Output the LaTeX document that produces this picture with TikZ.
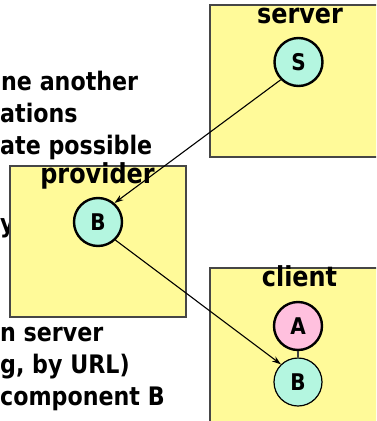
\documentclass[tikz,border=0pt]{standalone}
\usepackage{fontspec}
\usetikzlibrary{arrows.meta}
\newfontfamily\txtfont[FakeStretch=0.87]{DejaVu Sans}
\definecolor{boxfill}{RGB}{255,250,153}
\definecolor{boxline}{RGB}{70,70,70}
\definecolor{compcyan}{RGB}{180,246,224}
\definecolor{comppink}{RGB}{255,192,222}
\tikzset{
  host/.style={draw=boxline, line width=1.3pt, fill=boxfill},
  hostlabel/.style={font=\txtfont\bfseries\fontsize{27.5}{30}\selectfont, inner sep=0pt, anchor=base},
  bodytext/.style={font=\txtfont\bfseries\fontsize{25.5}{30}\selectfont, inner sep=0pt, anchor=base west},
  comp/.style={circle, draw=black, line width=2.4pt, minimum size=48pt, inner sep=0pt,
               font=\txtfont\bfseries\fontsize{23}{26}\selectfont},
  thincomp/.style={comp, line width=1.2pt},
  link/.style={-{Stealth[length=9pt,width=6pt]}, line width=1.1pt},
}
\begin{document}
\begin{tikzpicture}[x=1pt, y=-1pt]
  \useasboundingbox (0,0) rectangle (376,421);
  \clip (0,0) rectangle (376,421);
  \fill[white] (0,0) rectangle (376,421);

  % bullet text running off the left edge
  \node[bodytext] (t1) at (1,90) {ne another};
  \node[bodytext] (t2) at (0,122) {ations};
  \node[bodytext] (t3) at (0,154) {ate possible};
  \node[bodytext] (t4) at (0,232) {y};
  \node[bodytext] (t5) at (0,341) {n server};
  \node[bodytext] (t6) at (0,373) {g, by URL)};
  \node[bodytext] (t7) at (0,405) {component B};

  % hosts
  \draw[host] (210,5) rectangle (385,157);
  \draw[host] (10,166) rectangle (186,317);
  \draw[host] (210,268) rectangle (385,430);

  \node[hostlabel] (lserver) at (300,23) {server};
  \node[hostlabel] (lprovider) at (97.5,183) {provider};
  \node[hostlabel] (lclient) at (299.5,286) {client};

  % components
  \node[comp, fill=compcyan] (S) at (298.5,62) {S};
  \node[comp, fill=compcyan] (Bp) at (98,222) {B};
  \node[comp, fill=comppink] (A) at (298,326) {A};
  \node[thincomp, fill=compcyan] (Bc) at (298,382) {B};

  % connections
  \draw[line width=1.3pt, draw=black!75] (A) -- (Bc);
  \draw[link] (S.225) -- (Bp.49);
  \draw[link] (Bp.-46) -- (Bc.134);
\end{tikzpicture}
\end{document}
